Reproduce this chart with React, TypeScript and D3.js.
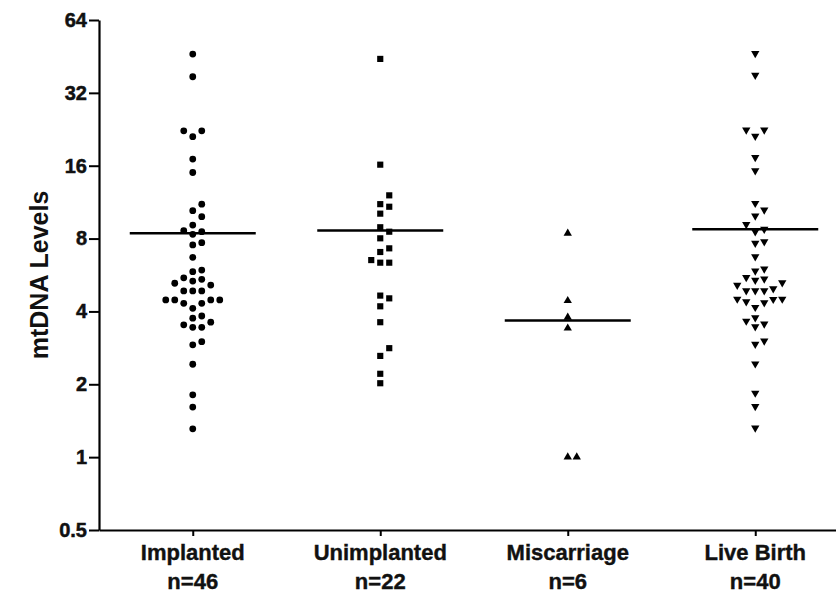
import { useEffect, useRef } from "react";
import * as d3 from "d3";

const categories = ["Implanted", "Unimplanted", "Miscarriage", "Live Birth"];
const counts = ["n=46", "n=22", "n=6", "n=40"];
const yTicks = [0.5, 1, 2, 4, 8, 16, 32, 64];

const implanted = [46.3, 37.3, 22.3, 21.1, 22.3, 17.05, 15.0, 11.1, 10.43, 9.85, 9.1, 8.62, 8.54, 8.33, 7.69, 7.53,
  6.69, 5.93, 5.84, 5.51, 5.43, 5.34, 5.23, 5.14, 4.86, 4.86, 4.86, 4.46, 4.46, 4.46, 4.46, 4.32, 4.32, 4.12,
  3.83, 3.75, 3.61, 3.52, 3.44, 3.44, 3.0, 2.91, 2.42, 1.81, 1.61, 1.31];
const unimplanted = [44.2, 16.16, 12.07, 11.1, 10.83, 10.14, 8.91, 8.54, 8.02, 7.29, 7.04, 6.52, 6.36, 6.36,
  4.65, 4.53, 4.2, 3.61, 2.82, 2.62, 2.21, 2.02];
const miscarriage = [8.41, 4.43, 3.78, 3.41, 1.0, 1.0];
const liveBirth = [46.6, 37.9, 22.5, 22.5, 21.2, 17.3, 15.26, 11.19, 10.5, 9.92, 9.16, 8.74, 8.54, 7.77, 7.65,
  6.73, 5.99, 5.88, 5.53, 5.45, 5.39, 5.26, 5.14, 4.97, 4.87, 4.87, 4.87, 4.5, 4.5, 4.49, 4.39, 4.35, 4.16,
  3.77, 3.65, 3.55, 3.46, 3.02, 2.93, 2.43, 1.84, 1.62, 1.32];

const groups = [implanted, unimplanted, miscarriage, liveBirth];
const symbols = [d3.symbolCircle, d3.symbolSquare, d3.symbolTriangle, d3.symbolTriangle];
const symbolSizes = [36, 38, 30, 30];
const rotations = [0, 0, 0, 180];

const width = 836;
const height = 597;
const font = "'Liberation Sans', Arial, sans-serif";

// grid beeswarm: place from the bottom up, centre column first, then right, left, ...
function swarm(values: number[], yScale: (v: number) => number, minDy: number) {
  const placed: { v: number; y: number; col: number }[] = [];
  const sorted = [...values].sort((a, b) => a - b);
  sorted.forEach((v) => {
    const yy = yScale(v);
    for (let k = 0; k < 20; k++) {
      const col = k === 0 ? 0 : k % 2 === 1 ? (k + 1) / 2 : -k / 2;
      const hit = placed.some((p) => p.col === col && Math.abs(p.y - yy) < minDy);
      if (!hit) {
        placed.push({ v, y: yy, col });
        break;
      }
    }
  });
  return placed;
}

function App() {
  const canvas = useRef<SVGSVGElement>(null);

  useEffect(() => {
    const svg = d3.select(canvas.current);
    svg.selectAll("*").remove();

    const y = d3.scaleLog().base(2).domain([0.5, 64]).range([530, 20]);
    const x = d3.scalePoint().domain(categories).range([99, 849]).padding(0.5);

    const yAxis = d3.axisLeft(y)
      .tickValues(yTicks)
      .tickFormat((d) => String(d))
      .tickSize(10)
      .tickSizeOuter(0)
      .tickPadding(2);
    const gy = svg.append("g").attr("transform", "translate(99,0)").call(yAxis);
    gy.select(".domain").attr("stroke-width", 2.2);
    gy.selectAll(".tick line").attr("stroke-width", 2);
    gy.selectAll(".tick text")
      .style("font-family", font)
      .style("font-size", "20px")
      .style("font-weight", "bold")
      .attr("fill", "#111")
      .attr("stroke", "#111")
      .attr("stroke-width", 0.5);

    const xAxis = d3.axisBottom(x).tickSize(6).tickSizeOuter(0).tickFormat(() => "");
    const gx = svg.append("g").attr("transform", "translate(0,530)").call(xAxis);
    gx.select(".domain").attr("stroke-width", 2.2);
    gx.selectAll(".tick line").attr("stroke-width", 2);

    const labels = svg.append("g")
      .style("font-family", font)
      .style("font-weight", "bold")
      .style("font-size", "22px")
      .attr("fill", "#111")
      .attr("stroke", "#111")
      .attr("stroke-width", 0.4)
      .attr("text-anchor", "middle");
    categories.forEach((c, i) => {
      labels.append("text").attr("x", x(c)!).attr("y", 560).text(c);
      labels.append("text").attr("x", x(c)!).attr("y", 589).text(counts[i]);
    });

    svg.append("text")
      .attr("transform", "translate(48,275) rotate(-90)")
      .attr("text-anchor", "middle")
      .style("font-family", font)
      .style("font-weight", "bold")
      .style("font-size", "25px")
      .attr("fill", "#111")
      .text("mtDNA Levels");

    groups.forEach((vals, i) => {
      const cx = x(categories[i])!;
      const pts = swarm(vals, y, 9);
      const sym = d3.symbol().type(symbols[i]).size(symbolSizes[i]);
      svg.append("g")
        .selectAll("path")
        .data(pts)
        .join("path")
        .attr("d", sym)
        .attr("fill", "#000")
        .attr("transform", (p) => `translate(${cx + p.col * 9},${p.y}) rotate(${rotations[i]})`);

      const m = d3.mean(vals)!;
      svg.append("line")
        .attr("x1", cx - 63)
        .attr("x2", cx + 63)
        .attr("y1", y(m))
        .attr("y2", y(m))
        .attr("stroke", "#000")
        .attr("stroke-width", 2.5);
    });
  }, []);

  return (
    <div>
      <svg
        ref={canvas}
        width={width}
        height={height}
        style={{ position: "absolute", left: 0, top: 0, background: "#fff" }}
      />
    </div>
  );
}

export default App;
